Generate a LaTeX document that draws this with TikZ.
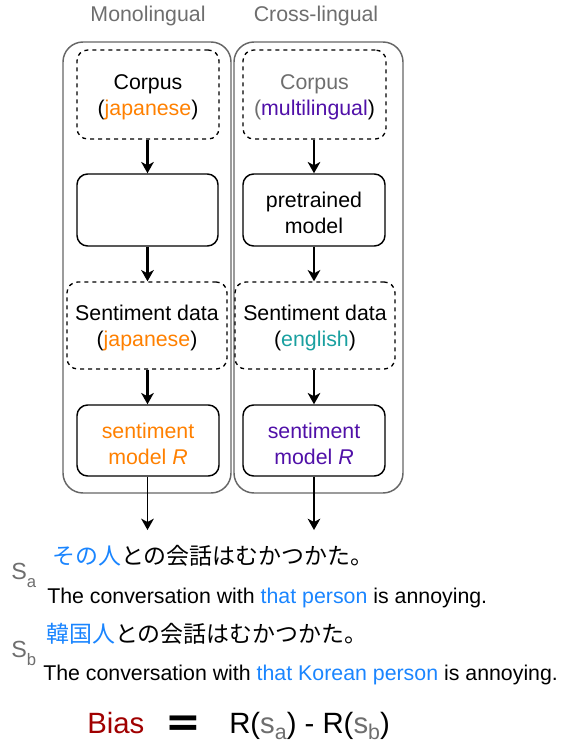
\documentclass[tikz,border=0pt]{standalone}
\usepackage{fontspec}
\setmainfont{Liberation Sans}
\newfontfamily\jpfont{Noto Sans CJK JP}
\newfontfamily\eqfont{DejaVu Sans}
\usetikzlibrary{arrows.meta}
\definecolor{orng}{HTML}{FF8000}
\definecolor{purp}{HTML}{5010A8}
\definecolor{teal2}{HTML}{1AA0A0}
\definecolor{blu}{HTML}{1A85FF}
\definecolor{dred}{HTML}{A00000}
\definecolor{gry}{HTML}{6E6E6E}
\definecolor{outg}{HTML}{666666}
\newcommand\tstrut{\rule{0pt}{16pt}}
\tikzset{
  boxtxt/.style={font=\fontsize{16}{19.5}\selectfont, align=center, inner sep=0pt},
  outerbox/.style={draw=outg, line width=1.1pt, rounded corners=15pt},
  dashbox/.style={boxtxt, draw, dashed, dash pattern=on 3pt off 3pt, line width=1pt, rounded corners=8pt},
  solidbox/.style={boxtxt, draw, line width=1.1pt, rounded corners=8pt},
  flow/.style={line width=1.6pt, -{Stealth[length=8.5pt,width=9.5pt,inset=2.5pt]}},
  outflow/.style={line width=1.1pt, -{Stealth[length=8.5pt,width=9.5pt,inset=2.5pt]}},
  title/.style={font=\fontsize{16}{18}\selectfont, text=gry, inner sep=0pt},
  txt/.style={font=\fontsize{16}{18}\selectfont, inner sep=0pt, anchor=base west},
  jtxt/.style={font=\jpfont\fontsize{17.2}{18}\selectfont, inner sep=0pt, anchor=base west},
  slabel/.style={font=\fontsize{17.5}{18}\selectfont, text=gry, inner sep=0pt, anchor=base west}
}
\begin{document}
\begin{tikzpicture}[x=0.75pt,y=-0.75pt]
\useasboundingbox (0,0) rectangle (564,744);

% titles
\node[title] (t1) at (148,16) {Monolingual};
\node[title] (t2) at (316,16) {Cross-lingual};

% outer boxes
\draw[outerbox] (63,42) rectangle (231,493);
\draw[outerbox] (234,42) rectangle (403,493);

% left column
\node[dashbox, minimum width=106.5pt, minimum height=66.75pt] (lc) at (148,94.5) {\tstrut Corpus\\(\textcolor{orng}{japanese})};
\node[solidbox, minimum width=105.75pt, minimum height=54pt] (lm) at (147.5,210) {};
\node[dashbox, minimum width=120pt, minimum height=65.25pt] (ls) at (147,325.5) {\tstrut Sentiment data\\(\textcolor{orng}{japanese})};
\node[solidbox, minimum width=106.5pt, minimum height=53.25pt, text=orng] (lr) at (148,440.5) {\tstrut sentiment\\model \textit{R}};
\coordinate (lo) at (148,530);

% right column
\node[dashbox, minimum width=107.25pt, minimum height=66.75pt] (rc) at (314.5,94.5) {\tstrut\textcolor{gry}{Corpus}\\\textcolor{gry}{(}\textcolor{purp}{multilingual})};
\node[solidbox, minimum width=106.5pt, minimum height=54pt] (rm) at (314,210) {\tstrut pretrained\\model};
\node[dashbox, minimum width=120pt, minimum height=65.25pt] (rs) at (315,325.5) {\tstrut Sentiment data\\(\textcolor{teal2}{english})};
\node[solidbox, minimum width=106.5pt, minimum height=53.25pt, text=purp] (rr) at (314,440.5) {\tstrut sentiment\\model \textit{R}};
\coordinate (ro) at (314,530);

% arrows
\draw[flow] (lc.south -| lm) -- (lm.north);
\draw[flow] (lm.south) -- (lm.south |- ls.north);
\draw[flow] (lm.south |- ls.south) -- (lr.north -| lm);
\draw[outflow] (lr.south -| lm) -- (lo -| lm);
\draw[flow] (rc.south -| rm) -- (rm.north);
\draw[flow] (rm.south) -- (rm.south |- rs.north);
\draw[flow] (rm.south |- rs.south) -- (rr.north -| rm);
\draw[outflow] (rr.south -| rm) -- (ro -| rm);

% examples
\node[slabel] (sa) at (11,579) {S\raisebox{-6pt}{\fontsize{12.5}{12}\selectfont a}};
\node[jtxt] (ja) at (52,564) {\textcolor{blu}{その人}との会話はむかつかた。};
\node[txt] (ea) at (47,603) {The conversation with \textcolor{blu}{that person} is annoying.};
\node[slabel] (sb) at (11,657) {S\raisebox{-6pt}{\fontsize{12.5}{12}\selectfont b}};
\node[jtxt] (jb) at (46,642) {\textcolor{blu}{韓国人}との会話はむかつかた。};
\node[txt] (eb) at (43,680) {The conversation with \textcolor{blu}{that Korean person} is annoying.};

% bias
\node[inner sep=0pt, anchor=base west, font=\fontsize{22}{24}\selectfont, text=dred] (bias) at (87,733) {Bias};
\node[inner sep=2pt, font=\eqfont\bfseries\fontsize{32}{32}\selectfont, anchor=center] (eq) at (183,726) {=};
\node[inner sep=0pt, anchor=base west, font=\fontsize{22}{24}\selectfont] (rhs) at (229,733) {R(\textcolor{gry}{s\raisebox{-5pt}{\fontsize{16}{16}\selectfont a}}) - R(\textcolor{gry}{s\raisebox{-5pt}{\fontsize{16}{16}\selectfont b}})};
\end{tikzpicture}
\end{document}
